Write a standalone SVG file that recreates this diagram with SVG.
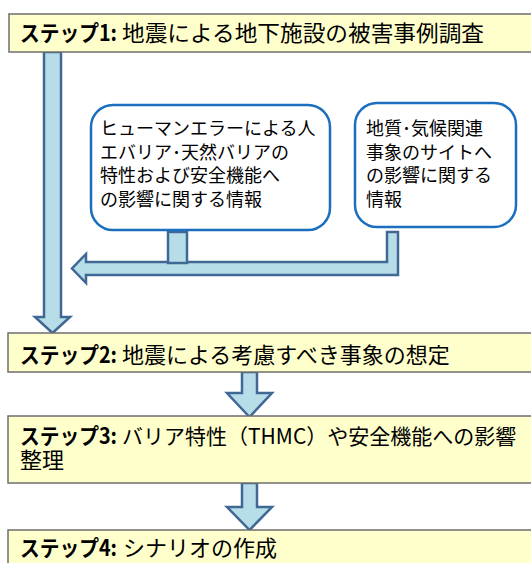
<svg xmlns="http://www.w3.org/2000/svg" width="531" height="563" viewBox="0 0 531 563">
<style>
.step{fill:#FFFFCC;stroke:#6E6E6E;stroke-width:1.5}
.info{fill:#FFFFFF;stroke:#1C6EBF;stroke-width:2.5}
.arr{fill:#B7DDE8;stroke:#3F6895;stroke-width:2.5;stroke-linejoin:miter}
.t{font-family:"Noto Sans CJK JP","Noto Sans",sans-serif;fill:#000}
.st{font-size:22px}
.it{font-size:18px}
.b{font-weight:bold}
</style>
<rect width="531" height="563" fill="#FFFFFF"/>
<g id="connectors">
<path class="arr" d="M44,52 H61 V317 H70 L52.5,333 L35,317 H44 Z"/>
<path class="arr" d="M387,232 H398 V275 H86 V283 L72,268.5 L86,254 V262 H387 Z"/>
<rect class="arr" x="168" y="232" width="19" height="31"/>
<path class="arr" d="M242,372 H257 V393 H272 L249.5,417 L227,393 H242 Z"/>
<path class="arr" d="M242,483 H257 V507 H272 L249.5,530 L227,507 H242 Z"/>
</g>
<g id="step1">
<rect class="step" x="9" y="14" width="540" height="38"/>
<text class="t st" y="41"><tspan class="b" x="20" textLength="97" lengthAdjust="spacingAndGlyphs">ステップ1:</tspan><tspan x="122" textLength="362" lengthAdjust="spacingAndGlyphs">地震による地下施設の被害事例調査</tspan></text>
</g>
<g id="info1">
<rect class="info" x="91" y="105" width="239" height="125" rx="22"/>
<text class="t it"><tspan x="100" y="135">ヒューマンエラーによる人</tspan><tspan x="100" y="158.5">エバリア･天然バリアの</tspan><tspan x="100" y="182">特性および安全機能へ</tspan><tspan x="100" y="205.5">の影響に関する情報</tspan></text>
</g>
<g id="info2">
<rect class="info" x="355" y="103" width="161" height="124" rx="22"/>
<text class="t it"><tspan x="366" y="135">地質･気候関連</tspan><tspan x="366" y="158.5">事象のサイトへ</tspan><tspan x="366" y="182">の影響に関する</tspan><tspan x="366" y="205.5">情報</tspan></text>
</g>
<g id="step2">
<rect class="step" x="8" y="333" width="540" height="39"/>
<text class="t st" y="363"><tspan class="b" x="20" textLength="97" lengthAdjust="spacingAndGlyphs">ステップ2:</tspan><tspan x="122">地震による考慮すべき事象の想定</tspan></text>
</g>
<g id="step3">
<rect class="step" x="8" y="416" width="540" height="67"/>
<text class="t st" y="444"><tspan x="20" class="b" textLength="97" lengthAdjust="spacingAndGlyphs">ステップ3:</tspan><tspan x="122" style="font-size:21px">バリア特性（THMC）や安全機能への影響</tspan></text>
<text class="t st" x="20" y="468">整理</text>
</g>
<g id="step4">
<rect class="step" x="8" y="530" width="540" height="40"/>
<text class="t st" y="556"><tspan class="b" x="20" textLength="97" lengthAdjust="spacingAndGlyphs">ステップ4:</tspan><tspan x="123">シナリオの作成</tspan></text>
</g>
</svg>
